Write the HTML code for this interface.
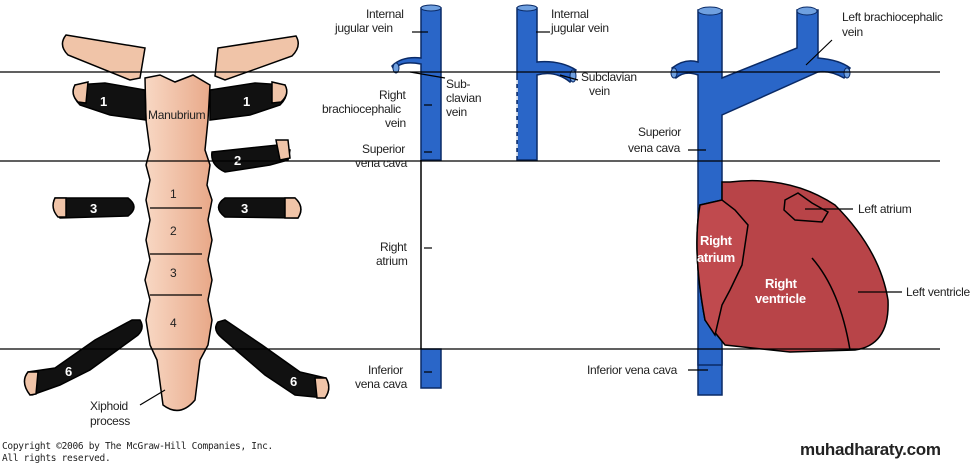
<!DOCTYPE html><html><head><style>body{margin:0;background:#fff}svg{display:block}text{font-family:"Liberation Sans",sans-serif;font-size:12px;fill:#222;letter-spacing:-0.3px}</style></head><body>
<svg width="980" height="463" viewBox="0 0 980 463" xmlns="http://www.w3.org/2000/svg">
<defs><linearGradient id="b" x1="0" x2="1"><stop offset="0" stop-color="#f8d8c4"/><stop offset="1" stop-color="#e8a888"/></linearGradient></defs>
<g stroke="#000" stroke-width="1.5">
<path d="M66 35 L145 48 L140 78 L130 80 L68 55 Q58 45 66 35Z" fill="#f0c4a8"/>
<path d="M296 36 L218 48 L215 76 L225 80 L292 56 Q302 46 296 36Z" fill="#f0c4a8"/>
<path d="M145 78 L160 75 L175 82 L193 75 L210 85 L208 120 L205 150 L210 165 L207 185 L212 200 L208 220 L212 240 L208 260 L212 280 L208 300 L212 320 L208 345 L200 360 L195 400 Q180 418 163 405 L157 360 L150 345 L146 320 L150 300 L145 280 L150 260 L146 240 L150 220 L146 200 L150 180 L146 165 L150 150 L146 120 Z" fill="url(#b)"/>
<path d="M75 85 L105 83 L145 90 L146 120 L110 115 L80 105 Q70 95 75 85Z" fill="#111"/>
<path d="M75 85 L88 82 L86 103 L78 102 Q70 94 75 85Z" fill="#f0c4a8"/>
<path d="M285 85 L255 83 L210 90 L210 120 L250 115 L280 105 Q290 95 285 85Z" fill="#111"/>
<path d="M285 85 L272 82 L272 103 L281 102 Q290 94 285 85Z" fill="#f0c4a8"/>
<path d="M212 152 L278 145 L290 150 L288 160 L270 165 L225 172 Q210 165 212 152Z" fill="#111"/>
<path d="M276 140 L288 140 L290 158 L280 160Z" fill="#f0c4a8"/>
<path d="M55 198 L128 198 Q140 207 128 216 L60 218 Q50 208 55 198Z" fill="#111"/>
<path d="M55 198 L66 198 L66 217 L58 217 Q50 208 55 198Z" fill="#f0c4a8"/>
<path d="M225 198 L295 198 Q305 207 298 218 L225 217 Q212 207 225 198Z" fill="#111"/>
<path d="M285 198 L295 198 Q305 207 298 218 L285 218Z" fill="#f0c4a8"/>
<path d="M140 320 Q145 328 138 335 L90 370 L60 385 L32 395 Q20 382 28 372 L55 368 L95 340 L132 320Z" fill="#111"/>
<path d="M28 372 L38 372 L36 394 L30 395 Q20 382 28 372Z" fill="#f0c4a8"/>
<path d="M218 322 Q212 330 222 338 L265 375 L295 395 L325 398 Q332 388 326 378 L300 372 L262 345 L225 320Z" fill="#111"/>
<path d="M315 378 L326 378 Q332 388 325 398 L317 398Z" fill="#f0c4a8"/>
</g>
<g stroke="#000" stroke-width="1.2"><line x1="150" y1="208" x2="202" y2="208"/><line x1="150" y1="254" x2="202" y2="254"/><line x1="150" y1="295" x2="202" y2="295"/><line x1="140" y1="405" x2="165" y2="390"/></g>
<g><text x="100" y="106" style="fill:#fff;font-size:13px;font-weight:bold">1</text><text x="243" y="106" style="fill:#fff;font-size:13px;font-weight:bold">1</text><text x="234" y="165" style="fill:#fff;font-size:13px;font-weight:bold">2</text><text x="90" y="213" style="fill:#fff;font-size:13px;font-weight:bold">3</text><text x="241" y="213" style="fill:#fff;font-size:13px;font-weight:bold">3</text><text x="65" y="376" style="fill:#fff;font-size:13px;font-weight:bold">6</text><text x="290" y="386" style="fill:#fff;font-size:13px;font-weight:bold">6</text></g>
<text x="148" y="119">Manubrium</text><text x="170" y="198">1</text><text x="170" y="235">2</text><text x="170" y="277">3</text><text x="170" y="327">4</text>
<text x="90" y="410">Xiphoid</text><text x="90" y="425">process</text>
<text x="2" y="449" style="font-size:9.5px;font-family:'DejaVu Sans Mono',monospace">Copyright ©2006 by The McGraw-Hill Companies, Inc.</text>
<text x="2" y="461" style="font-size:9.5px;font-family:'DejaVu Sans Mono',monospace">All rights reserved.</text>
<g stroke="#0a2a66" stroke-width="1.5" fill="#2a66c8">
<path d="M394 70 Q400 60 421 64 L421 160 L441 160 L441 8 L421 8 L421 58 Q402 56 392 66Z"/>
<path d="M517 8 L537 8 L537 62 Q560 60 576 70 L570 82 Q555 70 537 75 L537 160 L517 160Z"/>
<rect x="421" y="349" width="20" height="39"/>
<rect x="698" y="349" width="24" height="46"/>
<path d="M698 10 L722 10 L722 78 L797 48 L797 10 L818 10 L818 58 Q840 60 850 68 L844 78 Q830 70 818 72 L722 115 L722 365 L698 365 L698 75 Q685 70 676 78 L672 68 Q685 58 698 62Z"/>
</g>
<g fill="#6fa0e0" stroke="#0a2a66"><ellipse cx="431" cy="8" rx="10" ry="3"/><ellipse cx="527" cy="8" rx="10" ry="3"/><ellipse cx="710" cy="11" rx="12" ry="4"/><ellipse cx="807" cy="11" rx="10" ry="4"/><ellipse cx="396" cy="68" rx="3" ry="5"/><ellipse cx="573" cy="76" rx="3" ry="6"/><ellipse cx="674" cy="73" rx="3" ry="5"/><ellipse cx="847" cy="73" rx="3" ry="5"/></g>
<line x1="421" y1="160" x2="421" y2="349" stroke="#000" stroke-width="1.5"/>
<line x1="517" y1="80" x2="517" y2="160" stroke="#fff" stroke-width="1.5" stroke-dasharray="4 4"/>
<g stroke="#000" stroke-width="1.5" fill="#b84448">
<path d="M730 182 Q790 175 835 205 Q880 250 888 300 Q890 345 855 350 L790 352 L725 345 L705 320 Q692 250 700 205 L722 200 L722 182Z"/>
<path d="M700 205 L722 200 L735 210 L748 225 L742 265 L730 290 L722 305 L715 335 L705 320 Q692 250 700 205Z" fill="#c04a4e"/>
<path d="M785 200 L798 193 L812 203 L828 212 L822 222 L795 220 L784 210Z"/>
<path d="M812 258 Q840 290 850 350" fill="none"/>
</g>
<text x="700" y="245" style="fill:#fff;font-size:13px;font-weight:bold">Right</text><text x="697" y="262" style="fill:#fff;font-size:13px;font-weight:bold">atrium</text><text x="765" y="288" style="fill:#fff;font-size:13px;font-weight:bold">Right</text><text x="755" y="303" style="fill:#fff;font-size:13px;font-weight:bold">ventricle</text>
<g stroke="#000" stroke-width="1.3"><line x1="0" y1="72" x2="940" y2="72"/><line x1="0" y1="161" x2="940" y2="161"/><line x1="0" y1="349" x2="940" y2="349"/></g>
<g stroke="#000" stroke-width="1.2">
<line x1="412" y1="32" x2="428" y2="32"/><line x1="536" y1="32" x2="550" y2="32"/><line x1="410" y1="72" x2="445" y2="78"/><line x1="560" y1="75" x2="578" y2="80"/><line x1="424" y1="105" x2="432" y2="105"/><line x1="424" y1="152" x2="432" y2="152"/><line x1="424" y1="248" x2="432" y2="248"/><line x1="424" y1="372" x2="432" y2="372"/>
<line x1="688" y1="150" x2="706" y2="150"/><line x1="688" y1="370" x2="708" y2="370"/><line x1="806" y1="65" x2="832" y2="40"/><line x1="805" y1="209" x2="853" y2="209"/><line x1="858" y1="292" x2="902" y2="292"/>
</g>
<text x="366" y="18">Internal</text><text x="335" y="32">jugular vein</text>
<text x="551" y="18">Internal</text><text x="551" y="32">jugular vein</text>
<text x="446" y="88">Sub-</text><text x="446" y="102">clavian</text><text x="446" y="116">vein</text>
<text x="581" y="81">Subclavian</text><text x="589" y="95">vein</text>
<text x="379" y="99">Right</text><text x="322" y="113">brachiocephalic</text><text x="385" y="127">vein</text>
<text x="362" y="153">Superior</text><text x="355" y="167">vena cava</text>
<text x="380" y="251">Right</text><text x="376" y="265">atrium</text>
<text x="368" y="374">Inferior</text><text x="355" y="388">vena cava</text>
<text x="638" y="136">Superior</text><text x="628" y="152">vena cava</text>
<text x="587" y="374">Inferior vena cava</text>
<text x="842" y="21">Left brachiocephalic</text><text x="842" y="36">vein</text>
<text x="858" y="213">Left atrium</text><text x="906" y="296">Left ventricle</text>
<text x="800" y="455" style="font-size:17px;font-weight:bold;fill:#222">muhadharaty.com</text>
</svg></body></html>
